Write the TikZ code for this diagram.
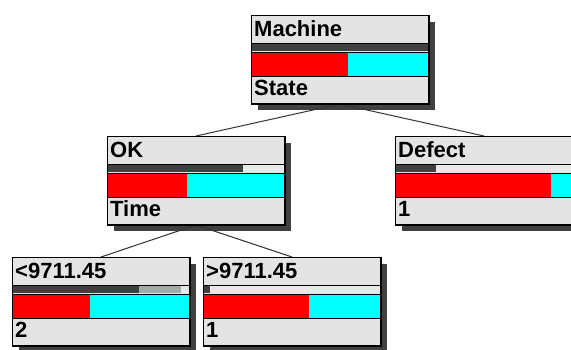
\documentclass[tikz,border=0pt]{standalone}
\usepackage{fontspec}
\setmainfont{Liberation Sans}
\definecolor{boxgray}{HTML}{E4E4E4}
\definecolor{barlight}{HTML}{E8E8E8}
\definecolor{midgray}{HTML}{A8A8A8}
\definecolor{darkgray}{HTML}{404040}
\definecolor{bnred}{HTML}{FF0000}
\definecolor{bncyan}{HTML}{00FFFF}
\pgfdeclarelayer{shadows}
\pgfdeclarelayer{wires}
\pgfsetlayers{shadows,wires,main}
\begin{document}
\begin{tikzpicture}[x=1pt, y=-1pt, font=\bfseries\fontsize{22}{22}\selectfont,
  box/.style = {draw, fill=boxgray, line width=1pt, anchor=north west, inner sep=0pt,
                minimum width=177pt, minimum height=88pt},
  lbl/.style = {anchor=base west, inner sep=0pt},
  wire/.style = {draw=black!80, line width=1pt}]
  \useasboundingbox (0,0) rectangle (571,349);
  \clip (0,0) rectangle (571,349);
  % name / x / y / title / dark / gray / red / value
  \foreach \n/\x/\y/\t/\d/\g/\r/\v in {
      machine/251/15/Machine/1/1/0.55/State,
      ok/107/136/OK/0.77/0.77/0.45/Time,
      defect/395/136/Defect/0.23/0.23/0.88/1,
      low/12/257/{<9711.45}/0.72/0.955/0.44/2,
      high/203/257/{>9711.45}/0.04/0.04/0.6/1}{
    \begin{pgfonlayer}{shadows}
      \fill[darkgray] (\x+7,\y+7) rectangle ++(177,88);
    \end{pgfonlayer}
    \node[box] (\n) at (\x,\y) {};
    \fill[barlight] (\x,\y+28) rectangle (\x+177,\y+36);
    \fill[midgray] (\x,\y+28) rectangle (\x+\g*177,\y+36);
    \fill[darkgray] (\x,\y+28) rectangle (\x+\d*177,\y+36);
    \fill[bncyan] (\x,\y+37) rectangle (\x+177,\y+61);
    \fill[bnred] (\x,\y+37) rectangle (\x+\r*177,\y+61);
    \draw[line width=1pt] (\x,\y+28) -- ++(177,0) (\x,\y+37) -- ++(177,0)
      (\x,\y+61) -- ++(177,0);
    \draw[line width=1pt] (\n.north west) rectangle (\n.south east);
    \node[lbl] (\n-t) at (\x+3,\y+21) {\t};
    \node[lbl] (\n-v) at (\x+3,\y+80) {\v};
  }
  \begin{pgfonlayer}{wires}
    \draw[wire] (machine.south) -- (ok.north);
    \draw[wire] (machine.south) -- (defect.north);
    \draw[wire] (ok.south) -- (low.north);
    \draw[wire] (ok.south) -- (high.north);
  \end{pgfonlayer}
\end{tikzpicture}
\end{document}
